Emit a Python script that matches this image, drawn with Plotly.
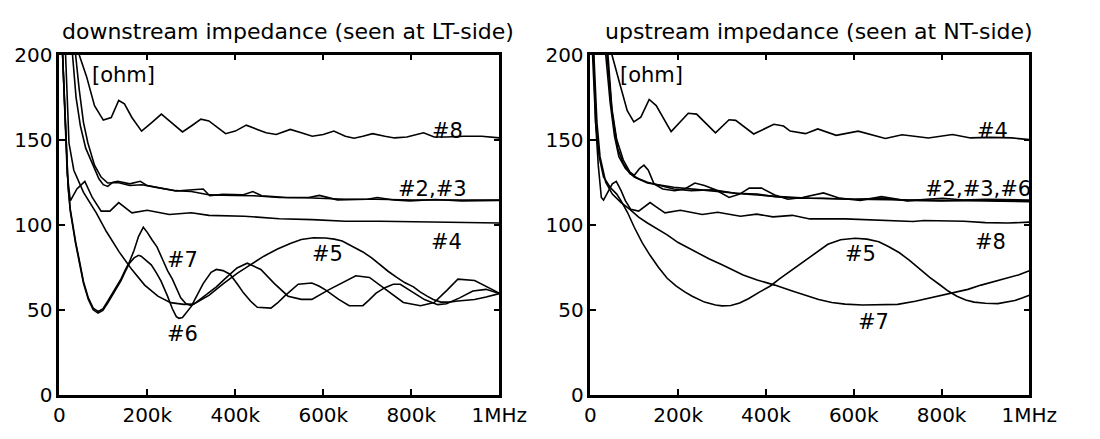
import plotly.graph_objects as go

# ---------------- data (frequency in kHz, impedance in ohm) ----------------
# downstream (seen at LT-side)
d8_f = [30, 45, 62, 80, 100, 118, 135, 148, 165, 187, 210, 232, 255, 280, 300, 322, 340, 360, 378, 400, 425, 450, 470, 493, 510, 525, 550, 575, 600, 624, 650, 670, 690, 712, 740, 762, 790, 828, 852, 880, 920, 960, 1000]
d8_z = [225, 200, 187, 170, 161.5, 163, 173, 171, 163, 155, 160, 165, 160, 154.5, 158, 162, 161, 157, 153.5, 155, 158.5, 156, 154, 153, 154.5, 156, 154, 152, 153, 155, 152, 150.8, 152, 153.5, 152, 151, 151.5, 154, 151.5, 151.5, 152, 152, 151]

d2_f = [37, 45, 55, 65, 80, 95, 110, 133, 160, 188, 230, 265, 300, 342, 400, 442, 500, 560, 650, 720, 805, 900, 1000]
d2_z = [200, 180, 160, 148, 135, 128, 124.5, 124.8, 123, 123.5, 121.5, 120, 119.5, 117.5, 117.2, 117, 116, 115.8, 115, 115, 114.5, 114.5, 114.5]

d3_f = [30, 38, 48, 60, 75, 90, 100, 110, 122, 133, 160, 184, 200, 265, 303, 327, 342, 371, 417, 440, 460, 518, 567, 591, 632, 700, 723, 760, 797, 855, 914, 1000]
d3_z = [200, 175, 158, 145, 136, 127, 123.5, 122.5, 125, 125.5, 124, 125.5, 123, 119.8, 120.5, 121, 117, 117.8, 117.5, 119.5, 117, 116, 116, 117.2, 114.6, 115, 116, 114.5, 114, 114.8, 114, 114.3]

d4_f = [6, 12, 18, 25, 40, 58, 75, 95, 115, 135, 165, 200, 250, 300, 340, 420, 500, 575, 650, 730, 850, 1000]
d4_z = [210, 165, 130, 114, 121, 125.5, 116, 108, 108, 113, 107, 108.5, 106, 107, 105.5, 105, 103.5, 103, 102, 102, 101.5, 101]

d5_f = [12, 22, 33, 55, 84, 107, 136, 165, 194, 224, 253, 283, 305, 340, 373, 405, 435, 465, 496, 525, 550, 578, 605, 625, 643, 665, 690, 710, 728, 748, 767, 785, 805, 820, 836, 850, 867, 885, 906, 925, 944, 970, 1000]
d5_z = [215, 148, 132, 119, 107, 96, 84, 73.6, 64.5, 58, 54.2, 53.2, 53.3, 58.5, 65.4, 71.5, 76.5, 81.5, 85.7, 89, 91.3, 92.3, 92.2, 91.5, 90.4, 87.5, 84, 80.5, 76.5, 72.5, 69, 66, 63.5, 60.5, 58, 56, 54.5, 54.5, 55.2, 55.5, 56, 57.5, 59.5]

d6_f = [5, 8, 12, 16, 20, 25, 30, 37, 44, 55, 66, 77, 88, 99, 110, 125, 140, 150, 160, 170, 180, 186, 200, 209, 220, 231, 246, 257, 266, 272, 280, 290, 300, 310, 327, 345, 357, 372, 388, 405, 419, 435, 450, 481, 496, 512, 543, 574, 590, 605, 635, 659, 690, 705, 720, 740, 759, 775, 800, 830, 860, 880, 910, 940, 970, 1000]
d6_z = [215, 195, 165, 140, 122, 108, 99, 89, 80, 65.5, 56, 50, 48, 49.6, 54, 60.7, 67, 72.5, 77.5, 80.5, 82, 81.5, 78.5, 76.4, 72, 67, 58, 50.6, 46, 45, 45.5, 48.7, 52, 57, 65.4, 72, 73.7, 73, 70.9, 65, 59.8, 55, 51.5, 51, 54, 58, 65, 65.7, 64, 61.7, 56.1, 52.4, 52.4, 56, 59.8, 63, 65, 65, 61, 56, 53, 53.5, 57, 61, 62, 59.5]

d7_f = [5, 8, 12, 16, 20, 25, 30, 37, 44, 55, 66, 77, 88, 99, 110, 125, 140, 150, 160, 170, 180, 191, 200, 211, 222, 234, 246, 257, 266, 276, 288, 300, 311, 330, 357, 380, 404, 427, 458, 489, 520, 550, 574, 612, 651, 674, 705, 743, 782, 821, 852, 882, 906, 944, 975, 1000]
d7_z = [216, 196, 166, 141, 123, 109, 100, 90, 81, 66.5, 57, 51, 49, 50.5, 55, 61.7, 68, 73.5, 78.5, 85, 93, 98.5, 95.5, 91, 87, 80, 73, 68, 63, 57, 53.5, 52.5, 54.3, 58, 63.5, 69, 74.6, 77.4, 73.7, 65.4, 58, 56.1, 56.1, 61.7, 67.2, 70, 69, 61.7, 54.3, 52.4, 54.3, 61.7, 68, 67.2, 63, 59.8]

# upstream (seen at NT-side)
u4_f = [35, 49, 68, 84, 99, 115, 134, 150, 184, 223, 242, 285, 316, 331, 372, 418, 440, 455, 490, 518, 560, 610, 672, 710, 770, 825, 866, 910, 960, 1000]
u4_z = [230, 200, 182, 167, 160.4, 163.2, 173.6, 170, 154.7, 165.5, 165, 154, 161.7, 161.3, 153.3, 159, 158, 155, 153.5, 156.3, 152.5, 155, 150.7, 152.9, 151, 153, 151, 151.3, 151, 150]

u2_f = [35, 45, 55, 65, 80, 100, 130, 190, 270, 350, 430, 500, 600, 700, 800, 900, 1000]
u2_z = [200, 172, 152, 140, 133, 128, 124.5, 122, 120, 118, 116.5, 115.5, 115, 114.5, 114.3, 114, 113.5]

u3_f = [38, 48, 60, 75, 90, 100, 112, 122, 132, 145, 165, 192, 215, 238, 260, 285, 316, 340, 362, 390, 420, 450, 483, 531, 568, 615, 663, 722, 766, 803, 850, 900, 1000]
u3_z = [200, 170, 150, 138, 131, 129, 133, 135, 132, 124, 121, 120, 121, 124.5, 123, 120.5, 116, 118, 121.5, 121.5, 117.5, 115, 116, 118.7, 115.6, 114.2, 116.5, 114, 115, 115.5, 114.5, 115, 114.5]

u6_f = [40, 50, 62, 75, 90, 110, 130, 160, 190, 230, 280, 330, 380, 420, 470, 530, 600, 660, 720, 800, 880, 950, 1000]
u6_z = [200, 165, 145, 136, 130, 127, 125, 123, 121, 120, 120.5, 118.5, 118, 116.5, 115.5, 115.5, 115, 115.5, 114.3, 114, 114.5, 114, 114]

u8_f = [6, 12, 18, 25, 30, 40, 50, 59, 70, 80, 92, 110, 125, 136, 150, 170, 205, 255, 290, 342, 379, 416, 460, 500, 580, 657, 735, 760, 851, 900, 951, 1000]
u8_z = [210, 160, 135, 116, 114.5, 119, 124, 125.5, 120, 114, 109, 108, 111, 113, 110.5, 107, 108.5, 106, 107.3, 105, 106.2, 104.6, 105.5, 103.4, 103.4, 102.5, 101.9, 102.5, 102, 101.2, 101, 101.5]

u5_f = [5, 12, 20, 30, 45, 60, 70, 85, 100, 118, 136, 155, 175, 195, 215, 232, 260, 285, 300, 320, 340, 360, 386, 410, 430, 460, 490, 515, 541, 570, 603, 630, 657, 680, 704, 727, 750, 773, 796, 815, 835, 855, 874, 900, 928, 950, 967, 985, 1000]
u5_z = [200, 160, 140, 128, 122, 118, 114, 107, 98.5, 89.5, 82, 75, 68.5, 64, 60.5, 58, 54.5, 52.8, 52.3, 52.5, 54, 56.5, 60.5, 64, 68, 73.5, 79, 84, 88.5, 91.2, 92, 91.5, 90, 87, 83.5, 79, 74, 69, 64.7, 61, 58, 55.8, 54.5, 53.8, 53.6, 54.5, 55.5, 57, 58.5]

u7_f = [8, 15, 22, 35, 50, 70, 90, 110, 130, 150, 175, 200, 235, 270, 300, 348, 380, 420, 460, 490, 520, 550, 580, 620, 660, 700, 740, 775, 800, 828, 860, 890, 920, 950, 975, 1000]
u7_z = [200, 160, 140, 125, 118, 113, 109, 104.5, 101, 98, 94, 89.5, 84.5, 80, 76.5, 70.5, 67.5, 64.5, 61, 58.5, 56, 54.3, 53.3, 52.8, 52.8, 53.2, 55, 57, 58.5, 60, 62, 64.5, 66.5, 68.5, 70.5, 73]

x_tickvals = [0, 200, 400, 600, 800, 1000]
x_ticktext = ["0", "200k", "400k", "600k", "800k", "1MHz"]
y_tickvals = [0, 50, 100, 150, 200]
y_ticktext = ["0", "50", "100", "150", "200"]

titles = ["downstream impedance (seen at LT-side)", "upstream impedance (seen at NT-side)"]

left_labels = [("[ohm]", 147, 188), ("#8", 883, 155), ("#2,#3", 848, 121), ("#4", 879, 90),
               ("#7", 280, 79), ("#5", 610, 83), ("#6", 280, 35.5)]
right_labels = [("[ohm]", 139, 188), ("#4", 916, 155), ("#2,#3,#6", 884, 121), ("#8", 912, 90),
                ("#5", 615, 83), ("#7", 646, 43)]

# ---------------- figure ----------------
FONT = "DejaVu Sans"
fig = go.Figure()
line = dict(color="black", width=1.6)

left = [(d8_f, d8_z), (d2_f, d2_z), (d3_f, d3_z), (d4_f, d4_z), (d5_f, d5_z), (d6_f, d6_z), (d7_f, d7_z)]
right = [(u4_f, u4_z), (u2_f, u2_z), (u3_f, u3_z), (u6_f, u6_z), (u8_f, u8_z), (u5_f, u5_z), (u7_f, u7_z)]
for f, z in left:
    fig.add_trace(go.Scatter(x=f, y=z, mode="lines", line=line, xaxis="x", yaxis="y", showlegend=False, hoverinfo="skip"))
for f, z in right:
    fig.add_trace(go.Scatter(x=f, y=z, mode="lines", line=line, xaxis="x2", yaxis="y2", showlegend=False, hoverinfo="skip"))

W, H = 1100, 439
axcommon = dict(showline=True, linecolor="black", linewidth=2.5, mirror="ticks", ticks="inside",
                ticklen=6, tickwidth=1.5, tickcolor="black", showgrid=False, zeroline=False,
                tickfont=dict(family=FONT, size=20, color="black"), fixedrange=True)
xdom1 = [55 / W, 509 / W]
xdom2 = [603 / W, 1056 / W]
ydom = [1 - 405 / H, 1 - 45 / H]

fig.update_layout(
    width=W, height=H, margin=dict(l=0, r=0, t=0, b=0),
    paper_bgcolor="white", plot_bgcolor="white",
    xaxis=dict(domain=xdom1, range=[0, 1000], tickvals=x_tickvals, ticktext=x_ticktext, anchor="y", **axcommon),
    yaxis=dict(domain=ydom, range=[0, 200], tickvals=y_tickvals, ticktext=y_ticktext, anchor="x", **axcommon),
    xaxis2=dict(domain=xdom2, range=[0, 1000], tickvals=x_tickvals, ticktext=x_ticktext, anchor="y2", **axcommon),
    yaxis2=dict(domain=ydom, range=[0, 200], tickvals=y_tickvals, ticktext=y_ticktext, anchor="x2", **axcommon),
)

ann = []
ann.append(dict(text=titles[0], x=291 / W, y=1 - 21 / H, xref="paper", yref="paper", showarrow=False,
                xanchor="center", yanchor="middle", font=dict(family=FONT, size=22, color="black")))
ann.append(dict(text=titles[1], x=839 / W, y=1 - 21 / H, xref="paper", yref="paper", showarrow=False,
                xanchor="center", yanchor="middle", font=dict(family=FONT, size=22, color="black")))
for t, x, y in left_labels:
    ann.append(dict(text=t, x=x, y=y, xref="x", yref="y", showarrow=False, xanchor="center", yanchor="middle",
                    font=dict(family=FONT, size=21, color="black")))
for t, x, y in right_labels:
    ann.append(dict(text=t, x=x, y=y, xref="x2", yref="y2", showarrow=False, xanchor="center", yanchor="middle",
                    font=dict(family=FONT, size=21, color="black")))
fig.update_layout(annotations=ann)

fig.write_html("out.html", config={"displayModeBar": False},
               post_script="document.body.style.margin='0px';document.body.style.overflow='hidden';")
